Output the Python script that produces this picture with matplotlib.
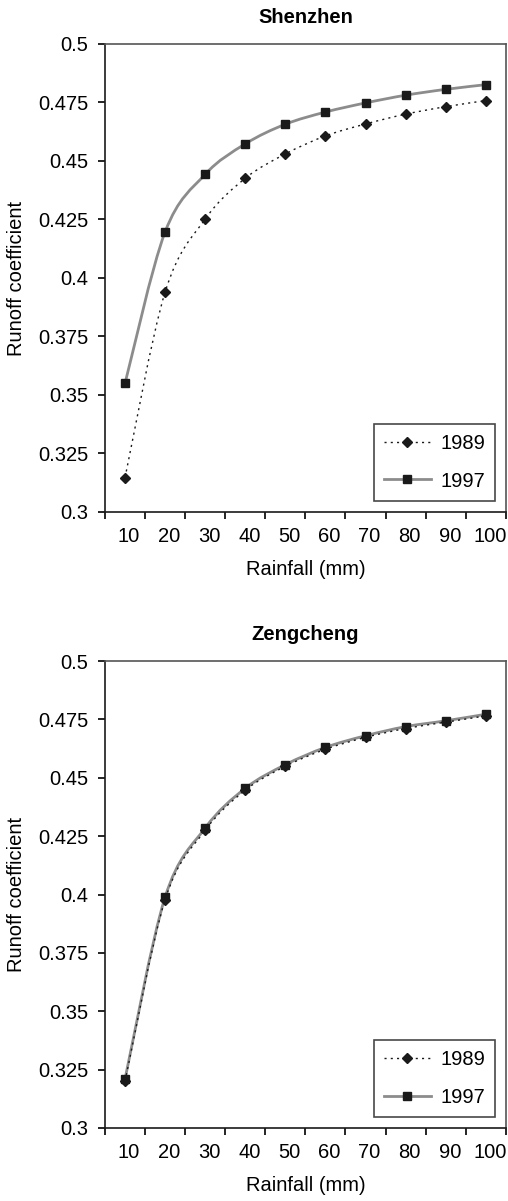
import matplotlib.pyplot as plt
import numpy as np
from matplotlib.path import Path
from matplotlib.patches import PathPatch
from matplotlib.lines import Line2D

plt.rcParams['font.family'] = ['Liberation Sans', 'DejaVu Sans']

rainfall = [10, 20, 30, 40, 50, 60, 70, 80, 90, 100]
shenzhen_1989 = [0.3147, 0.3940, 0.4252, 0.4426, 0.4530, 0.4607, 0.4658, 0.4700, 0.4732, 0.4758]
shenzhen_1997 = [0.3550, 0.4197, 0.4443, 0.4573, 0.4657, 0.4709, 0.4748, 0.4781, 0.4806, 0.4826]
zengcheng_1989 = [0.3200, 0.3978, 0.4275, 0.4447, 0.4549, 0.4622, 0.4673, 0.4711, 0.4738, 0.4765]
zengcheng_1997 = [0.3210, 0.3989, 0.4285, 0.4455, 0.4556, 0.4630, 0.4680, 0.4719, 0.4744, 0.4772]
yticks = [0.3, 0.325, 0.35, 0.375, 0.4, 0.425, 0.45, 0.475, 0.5]
ytick_labels = ['0.3', '0.325', '0.35', '0.375', '0.4', '0.425', '0.45', '0.475', '0.5']

FS = 14.5


def smooth_path(x, y):
    # Excel-style smoothed line: cubic bezier through each point
    x = np.asarray(x, float)
    y = np.asarray(y, float)
    verts = [(x[0], y[0])]
    codes = [Path.MOVETO]
    n = len(x)
    for i in range(n - 1):
        p0 = (x[i - 1], y[i - 1]) if i > 0 else (x[i], y[i])
        p1 = (x[i], y[i])
        p2 = (x[i + 1], y[i + 1])
        p3 = (x[i + 2], y[i + 2]) if i + 2 < n else (x[i + 1], y[i + 1])
        c1 = (p1[0] + (p2[0] - p0[0]) / 6, p1[1] + (p2[1] - p0[1]) / 6)
        c2 = (p2[0] - (p3[0] - p1[0]) / 6, p2[1] - (p3[1] - p1[1]) / 6)
        verts += [c1, c2, p2]
        codes += [Path.CURVE4] * 3
    return Path(verts, codes)


def draw_panel(ax, title, s89, s97):
    xs = np.arange(len(rainfall))
    ax.add_patch(PathPatch(smooth_path(xs, s97), facecolor='none',
                           edgecolor='#8c8c8c', lw=2.0, zorder=2))
    ax.plot(xs, s97, ls='none', marker='s', ms=6, color='#1a1a1a', zorder=4)
    ax.add_patch(PathPatch(smooth_path(xs, s89), facecolor='none',
                           edgecolor='#1a1a1a', lw=1.0, ls=(0, (1.5, 3)), zorder=3))
    ax.plot(xs, s89, ls='none', marker='D', ms=5.5, color='#1a1a1a', zorder=4)

    ax.set_xlim(-0.5, len(rainfall) - 0.5)
    ax.set_ylim(0.3, 0.5)
    ax.set_xticks(np.arange(-0.5, len(rainfall)))
    ax.set_xticklabels([])
    ax.set_xticks(xs + 0.1, minor=True)
    ax.set_xticklabels([str(r) for r in rainfall], minor=True)
    ax.tick_params(axis='x', which='minor', length=0, pad=11, labelsize=FS)
    ax.tick_params(axis='x', which='major', length=5, width=1.2, direction='out')
    ax.set_yticks(yticks)
    ax.set_yticklabels(ytick_labels)
    ax.tick_params(axis='y', length=5, width=1.2, direction='out', labelsize=FS, pad=7)
    for s in ax.spines.values():
        s.set_linewidth(1.2)
        s.set_color('#1a1a1a')
    ax.spines['top'].set_color('#555555')
    ax.spines['right'].set_color('#555555')
    ax.set_title(title, fontsize=FS, fontweight='bold', pad=15)
    ax.set_xlabel('Rainfall (mm)', fontsize=FS, labelpad=10)
    ax.set_ylabel('Runoff coefficient', fontsize=FS, labelpad=9)

    h89 = Line2D([], [], color='#1a1a1a', lw=1.0, ls=(0, (1.5, 3)), marker='D', ms=5.5)
    h97 = Line2D([], [], color='#8c8c8c', lw=2.0, marker='s', ms=6,
                 markerfacecolor='#1a1a1a', markeredgecolor='#1a1a1a')
    leg = ax.legend([h89, h97], ['1989', '1997'], loc='lower right',
                    bbox_to_anchor=(0.978, 0.02), fontsize=FS, frameon=True,
                    fancybox=False, edgecolor='#1a1a1a', handlelength=2.35,
                    labelspacing=0.9, borderpad=0.5, handletextpad=0.45,
                    borderaxespad=0.1)
    leg.get_frame().set_linewidth(1.2)


fig = plt.figure(figsize=(5.08, 12.01), dpi=100)
ax1 = fig.add_axes([0.2067, 0.5737, 0.789, 0.3897])
ax2 = fig.add_axes([0.2067, 0.0608, 0.789, 0.3888])
draw_panel(ax1, 'Shenzhen', shenzhen_1989, shenzhen_1997)
draw_panel(ax2, 'Zengcheng', zengcheng_1989, zengcheng_1997)

fig.savefig('out.png', dpi=100)
